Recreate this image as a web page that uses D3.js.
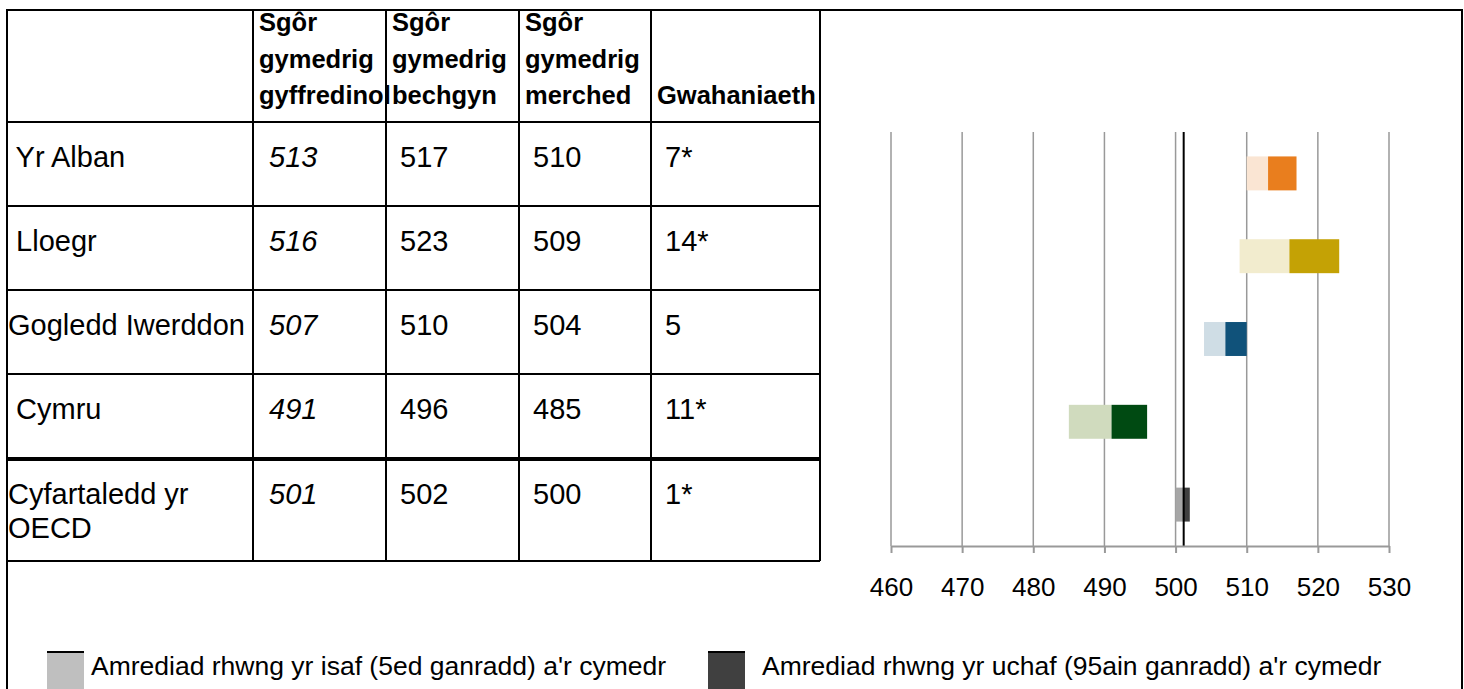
<!DOCTYPE html>
<html>
<head>
<meta charset="utf-8">
<script src="https://cdn.jsdelivr.net/npm/d3@7"></script>
<style>
  body { margin: 0; background: #fff; }
  svg { display: block; font-family: "Liberation Sans", Arial, sans-serif; }
  text { white-space: pre; }
</style>
</head>
<body>
<div id="chart"></div>
<script>
// data
const countries = [[" Yr Alban"], [" Lloegr"], ["Gogledd Iwerddon"], [" Cymru"], ["Cyfartaledd yr", "OECD"]];
const overall = [513, 516, 507, 491, 501];
const boys = [517, 523, 510, 496, 502];
const girls = [510, 509, 504, 485, 500];
const diffs = ["7*", "14*", "5", "11*", "1*"];
const headers = [[], ["Sgôr", "gymedrig", "gyffredinol"], ["Sgôr", "gymedrig", "bechgyn"], ["Sgôr", "gymedrig", "merched"], ["", "", "Gwahaniaeth"]];
const xTicks = [460, 470, 480, 490, 500, 510, 520, 530];
const oecdMean = 501;
const lightColors = ["#fae5d3", "#f2ecce", "#cfdde5", "#d0dbbe", "#a6a6a6"];
const darkColors = ["#e97e1e", "#c4a205", "#10527a", "#004a12", "#404040"];
const legendLabels = ["Amrediad rhwng yr isaf (5ed ganradd) a'r cymedr", "Amrediad rhwng yr uchaf (95ain ganradd) a'r cymedr"];
const legendColors = ["#bfbfbf", "#404040"];

const width = 1464, height = 689;
const svg = d3.select("#chart").append("svg")
    .attr("width", width)
    .attr("height", height);

// outer frame
svg.append("rect")
    .attr("x", 7).attr("y", 10)
    .attr("width", 1455).attr("height", 700)
    .attr("fill", "none").attr("stroke", "#000").attr("stroke-width", 2);

// ---- table ----
const colX = [7, 253, 386, 519, 651, 820];
const rowY = [10, 122, 206, 290, 374, 459, 561];
const table = svg.append("g");

rowY.slice(1).forEach((y, i) => {
    table.append("line")
        .attr("x1", colX[0]).attr("x2", colX[colX.length - 1])
        .attr("y1", y).attr("y2", y)
        .attr("stroke", "#000")
        .attr("stroke-width", i === 4 ? 4 : 2);
});
colX.forEach(x => {
    table.append("line")
        .attr("x1", x).attr("x2", x)
        .attr("y1", rowY[0]).attr("y2", rowY[rowY.length - 1])
        .attr("stroke", "#000").attr("stroke-width", 2);
});

headers.forEach((lines, c) => {
    lines.forEach((t, j) => {
        table.append("text")
            .attr("x", colX[c] + 6)
            .attr("y", 31 + j * 36.5)
            .attr("font-size", 25.5)
            .attr("font-weight", "bold")
            .text(t);
    });
});

const bodySize = 29;
countries.forEach((lines, i) => {
    const top = rowY[i + 1];
    lines.forEach((t, j) => {
        table.append("text")
            .attr("x", colX[0] + 1)
            .attr("y", top + 45 + j * 34)
            .attr("font-size", bodySize)
            .text(t);
    });
    const cells = [" " + overall[i], " " + boys[i], " " + girls[i], " " + diffs[i]];
    cells.forEach((t, c) => {
        table.append("text")
            .attr("x", colX[c + 1] + (c === 0 ? 8 : 6))
            .attr("y", top + 45)
            .attr("font-size", bodySize)
            .attr("font-style", c === 0 ? "italic" : null)
            .text(t);
    });
});

// ---- chart ----
const x = d3.scaleLinear().domain([460, 530]).range([891, 1389]);
const y = d3.scaleBand().domain(d3.range(countries.length)).range([132, 546]).paddingInner(0.59).paddingOuter(0.295);
const chart = svg.append("g");

chart.selectAll(".grid")
    .data(xTicks)
    .join("line")
    .attr("class", "grid")
    .attr("x1", d => x(d)).attr("x2", d => x(d))
    .attr("y1", 132).attr("y2", 546)
    .attr("stroke", "#999").attr("stroke-width", 1.5);

chart.selectAll(".low")
    .data(girls)
    .join("rect")
    .attr("class", "low")
    .attr("x", d => x(d))
    .attr("y", (d, i) => y(i))
    .attr("width", (d, i) => x(overall[i]) - x(d))
    .attr("height", y.bandwidth())
    .attr("fill", (d, i) => lightColors[i]);

chart.selectAll(".high")
    .data(boys)
    .join("rect")
    .attr("class", "high")
    .attr("x", (d, i) => x(overall[i]))
    .attr("y", (d, i) => y(i))
    .attr("width", (d, i) => x(d) - x(overall[i]))
    .attr("height", y.bandwidth())
    .attr("fill", (d, i) => darkColors[i]);

chart.append("line")
    .attr("x1", x(oecdMean) + 1).attr("x2", x(oecdMean) + 1)
    .attr("y1", 132).attr("y2", 546)
    .attr("stroke", "#000").attr("stroke-width", 2);

const axis = chart.append("g")
    .attr("transform", "translate(0,546)")
    .call(d3.axisBottom(x).tickValues(xTicks).tickSize(7).tickSizeOuter(0).tickPadding(24.5));
axis.select(".domain").attr("stroke", "#999").attr("stroke-width", 2);
axis.selectAll(".tick line").attr("stroke", "#999").attr("stroke-width", 2);
axis.selectAll(".tick text")
    .attr("font-size", 26)
    .attr("font-family", "Liberation Sans, Arial, sans-serif")
    .attr("fill", "#000");

// ---- legend ----
const legendX = [47, 708];
const legendTextX = [91, 762];
legendLabels.forEach((t, i) => {
    svg.append("rect")
        .attr("x", legendX[i]).attr("y", 652)
        .attr("width", 37).attr("height", 45)
        .attr("fill", legendColors[i]);
    svg.append("line")
        .attr("x1", legendX[i]).attr("x2", legendX[i] + 37)
        .attr("y1", 652).attr("y2", 652)
        .attr("stroke", "#000").attr("stroke-width", 2);
    svg.append("text")
        .attr("x", legendTextX[i])
        .attr("y", 675)
        .attr("font-size", 26.5)
        .text(t);
});
</script>
</body>
</html>
